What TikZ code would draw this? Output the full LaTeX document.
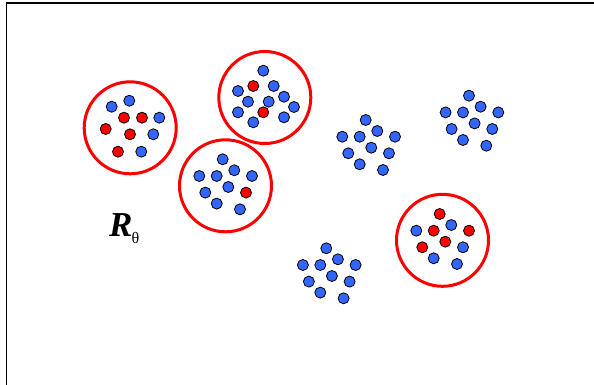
\documentclass[tikz,border=0pt]{standalone}
\usepackage{fontspec}
\setmainfont{Liberation Serif}
\definecolor{dotblue}{RGB}{51,102,255}
\tikzset{
  dotb/.style={circle,draw=black,line width=0.8pt,fill=dotblue,minimum size=11pt,inner sep=0pt},
  dotr/.style={dotb,fill=red},
  ring/.style={circle,draw=red,line width=3pt,minimum size=92pt,inner sep=0pt},
}
\begin{document}
\begin{tikzpicture}[x=1pt,y=-1pt]
\useasboundingbox (0,0) rectangle (594,385);
% frame
\coordinate (fbl) at (6.5,385);
\coordinate (ftl) at (6.5,3);
\coordinate (ftr) at (594,3);
\draw[line width=1.3pt] (fbl) -- (ftl) -- (ftr);
% rings
\node[ring] (rE) at (130.2,127.8) {};
\node[ring] (rF) at (264.8,97.5) {};
\node[ring] (rG) at (225.5,185.8) {};
\node[ring] (rD) at (442.5,240.3) {};
% template clusters
\begin{scope}[shift={(365.7,120)}]
\foreach \dx/\dy/\s [count=\i] in {0/0/dotb,-23.4/16.7/dotb,-6/16.7/dotb,11.6/11/dotb,29.3/16.7/dotb,-17.4/33.3/dotb,5.6/27.7/dotb,23.3/33.3/dotb,-6/44.3/dotb,17.3/50/dotb}
  \node[\s] (A\i) at (\dx,\dy) {};
\end{scope}
\begin{scope}[shift={(469,95.7)}]
\foreach \dx/\dy/\s [count=\i] in {0/0/dotb,-23.4/16.7/dotb,-6/16.7/dotb,11.6/11/dotb,29.3/16.7/dotb,-17.4/33.3/dotb,5.6/27.7/dotb,23.3/33.3/dotb,-6/44.3/dotb,17.3/50/dotb}
  \node[\s] (B\i) at (\dx,\dy) {};
\end{scope}
\begin{scope}[shift={(326.3,248.3)}]
\foreach \dx/\dy/\s [count=\i] in {0/0/dotb,-23.4/16.7/dotb,-6/16.7/dotb,11.6/11/dotb,29.3/16.7/dotb,-17.4/33.3/dotb,5.6/27.7/dotb,23.3/33.3/dotb,-6/44.3/dotb,17.3/50/dotb}
  \node[\s] (C\i) at (\dx,\dy) {};
\end{scope}
\begin{scope}[shift={(439.7,214)}]
\foreach \dx/\dy/\s [count=\i] in {0/0/dotr,-23.4/16.7/dotb,-6/16.7/dotr,11.6/11/dotb,29.3/16.7/dotr,-17.4/33.3/dotr,5.6/27.7/dotr,23.3/33.3/dotb,-6/44.3/dotb,17.3/50/dotb}
  \node[\s] (D\i) at (\dx,\dy) {};
\end{scope}
\begin{scope}[shift={(222.7,159.3)}]
\foreach \dx/\dy/\s [count=\i] in {0/0/dotb,-23.4/16.7/dotb,-6/16.7/dotb,11.6/11/dotb,29.3/16.7/dotb,-17.4/33.3/dotb,5.6/27.7/dotb,23.3/33.3/dotr,-6/44.3/dotb,17.3/50/dotb}
  \node[\s] (G\i) at (\dx,\dy) {};
\end{scope}
% cluster E
\foreach \x/\y/\s [count=\i] in {129.3/100.7/dotb,111.7/106.7/dotb,124/117.7/dotr,142/117.7/dotr,159.3/117.7/dotb,105.7/129/dotr,130/134.3/dotr,153.3/134.3/dotb,118/151.7/dotr,141.3/151.7/dotb}
  \node[\s] (E\i) at (\x,\y) {};
% cluster F
\foreach \x/\y/\s [count=\i] in {263.3/70.7/dotb,238/91/dotb,253.3/86/dotr,273.7/86/dotb,248/101.7/dotb,268.7/101.7/dotb,284/96.7/dotb,294/107/dotb,238/112.3/dotb,263.3/112.3/dotr,253.3/122.3/dotb,284/117.3/dotb}
  \node[\s] (F\i) at (\x,\y) {};
% label
\node[anchor=base west,inner sep=0pt] (lbl) at (109,236)
  {\fontsize{35}{35}\selectfont\bfseries\itshape R\kern-1pt\raisebox{-7pt}{\fontsize{16}{16}\selectfont\mdseries\upshape θ}};
\end{tikzpicture}
\end{document}
